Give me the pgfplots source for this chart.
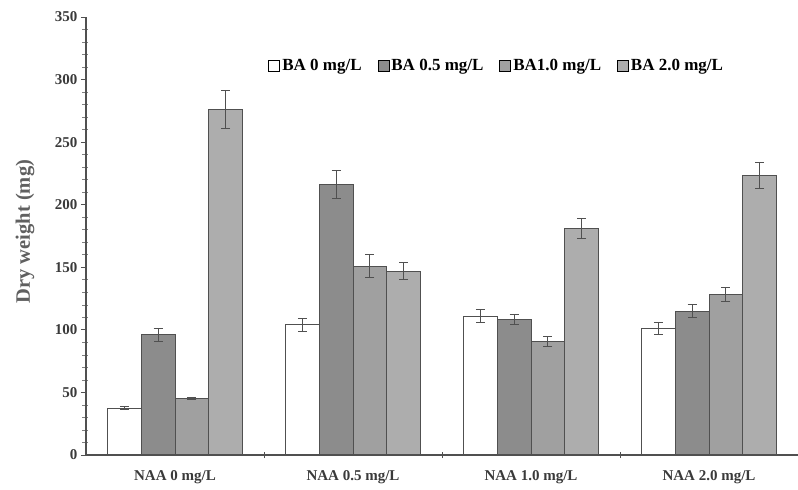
\documentclass[border=0pt]{standalone}
\usepackage{fontspec}
\setmainfont{Liberation Serif}
\usepackage{pgfplots}
\pgfplotsset{compat=1.18}
\definecolor{axgray}{HTML}{505050}
\definecolor{txtgray}{HTML}{3A3A3A}
\definecolor{labgray}{HTML}{606060}
\definecolor{cbb}{HTML}{8C8C8C}
\definecolor{ccc}{HTML}{A0A0A0}
\definecolor{cdd}{HTML}{ADADAD}
\pgfplotsset{
  myleg/.style={legend image code/.code={\draw[##1,draw=black,line width=0.8pt] (0pt,-5.5pt) rectangle (11pt,5.5pt);}},
  myerr/.style={error bars/y dir=both, error bars/y explicit,
    error bars/error bar style={axgray, line width=1pt},
    error bars/error mark options={rotate=90, mark size=4.5pt, axgray, line width=1pt}},
}
\begin{document}
\begin{tikzpicture}
\begin{axis}[name=ax,
  width=712pt, height=438pt, scale only axis,
  axis on top,
  ybar=0pt, bar width=33.7pt,
  xmin=-0.5, xmax=3.5, ymin=0, ymax=350,
  axis x line*=bottom, axis y line*=left,
  axis line style={axgray, line width=1.2pt},
  xtick={0,1,2,3},
  xticklabels={NAA 0 mg/L, NAA 0.5 mg/L, NAA 1.0 mg/L, NAA 2.0 mg/L},
  major x tick style={draw=none},
  minor xtick={0.5,1.5,2.5},
  minor x tick style={draw=axgray, line width=1pt, yshift=3pt},
  ytick={0,50,...,350}, minor y tick num=4,
  tick align=outside, major tick length=5pt, minor tick length=6pt,
  minor y tick style={xshift=2.5pt, line width=0.6pt},
  major y tick style={draw=axgray, line width=0.8pt},
  ticklabel style={font=\fontsize{15}{17}\selectfont\bfseries, text=txtgray},
  /pgf/number format/assume math mode=true,
  xticklabel style={yshift=-7pt},
  ylabel={Dry weight (mg)},
  ylabel style={at={(axis description cs:-0.0857,0.51)}, anchor=center, font=\fontsize{20.5}{22}\selectfont\bfseries, text=labgray},
  legend columns=4,
  legend style={at={(axis description cs:0.256,0.888)}, anchor=west, draw=none, fill=none,
    font=\fontsize{17}{19}\selectfont\bfseries,
    /tikz/every even column/.append style={column sep=14pt},
    inner sep=0pt},
  legend cell align=left,
  clip=false,
]
\addplot[myleg, myerr, fill=white, draw=axgray, line width=0.8pt] coordinates {
  (0,37.5) +- (0,1.5)
  (1,104) +- (0,5)
  (2,111) +- (0,5)
  (3,101) +- (0,5)
};
\addplot[myleg, myerr, fill=cbb, draw=axgray, line width=0.8pt] coordinates {
  (0,96) +- (0,5)
  (1,216) +- (0,11)
  (2,108) +- (0,4)
  (3,115) +- (0,5.5)
};
\addplot[myleg, myerr, fill=ccc, draw=axgray, line width=0.8pt] coordinates {
  (0,45) +- (0,1)
  (1,151) +- (0,9)
  (2,91) +- (0,4)
  (3,128.5) +- (0,5.5)
};
\addplot[myleg, myerr, fill=cdd, draw=axgray, line width=0.8pt] coordinates {
  (0,276) +- (0,15)
  (1,147) +- (0,7)
  (2,181) +- (0,8)
  (3,223.5) +- (0,10.5)
};
\legend{BA 0 mg/L, BA 0.5 mg/L, BA1.0 mg/L, BA 2.0 mg/L}
\end{axis}
\pgfresetboundingbox
\useasboundingbox ([shift={(-86pt,-35pt)}]ax.south west) rectangle ([shift={(0pt,17pt)}]ax.north east);
\end{tikzpicture}
\end{document}
